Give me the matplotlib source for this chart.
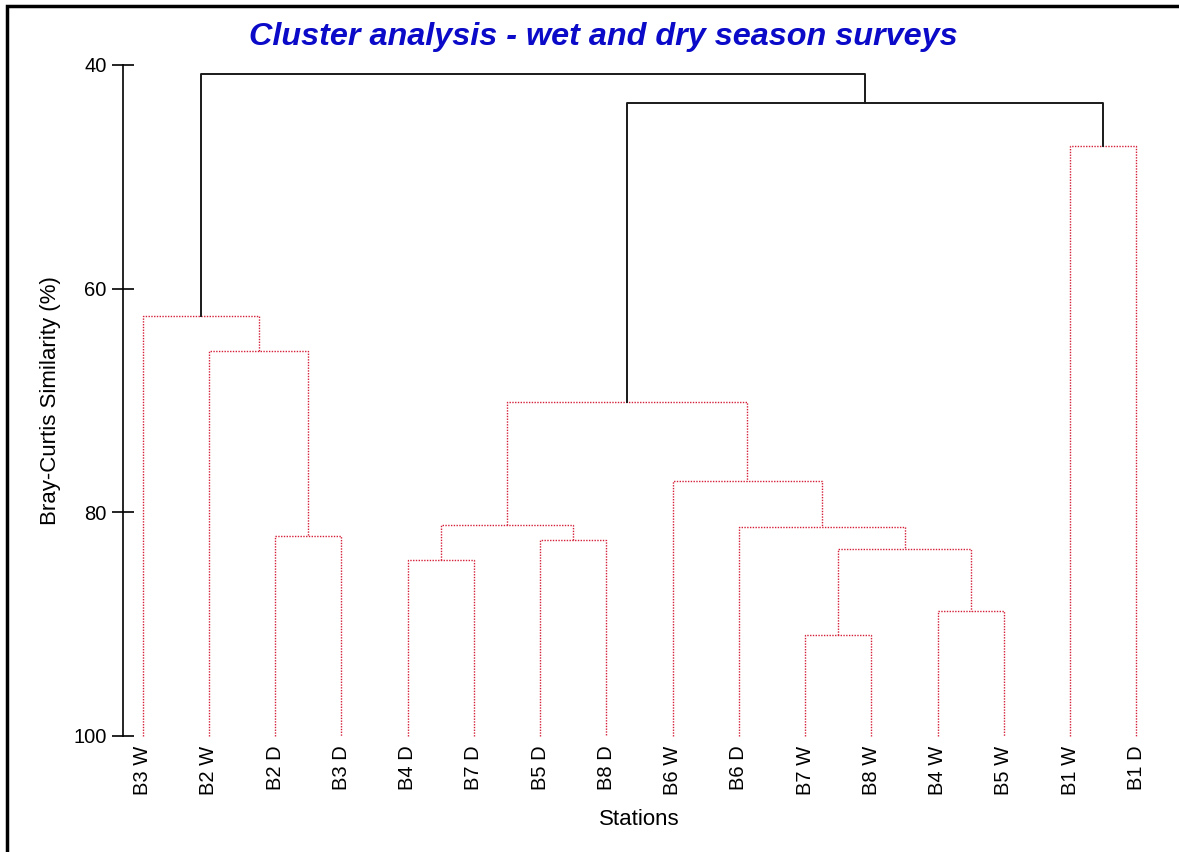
import matplotlib
matplotlib.use("Agg")
import matplotlib.pyplot as plt
from matplotlib.patches import Rectangle

plt.rcParams["font.family"] = ["Liberation Sans", "DejaVu Sans"]

# stations in dendrogram order
stations = ["B3 W", "B2 W", "B2 D", "B3 D", "B4 D", "B7 D", "B5 D", "B8 D",
            "B6 W", "B6 D", "B7 W", "B8 W", "B4 W", "B5 W", "B1 W", "B1 D"]

# merge table: node 16 + k joins merge_left[k] and merge_right[k]
merge_left = [2, 1, 0, 4, 6, 19, 10, 12, 22, 9, 8, 21, 14, 27, 18]
merge_right = [3, 16, 17, 5, 7, 20, 11, 13, 23, 24, 25, 26, 15, 28, 29]
similarity = [82.1, 65.6, 62.4, 84.3, 82.5, 81.1, 91.0, 88.8, 83.3, 81.3,
              77.2, 70.1, 47.2, 43.4, 40.8]

# groups joined above this level are drawn solid black
cut_level = 45

W, H = 1179, 852
fig = plt.figure(figsize=(W / 100, H / 100), dpi=100)
ax = fig.add_axes([123.3 / W, 116 / H, 1046.3 / W, 671 / H])

n = len(stations)
xpos = list(range(n))
height = [100.0] * n
for a, b, s in zip(merge_left, merge_right, similarity):
    xpos.append((xpos[a] + xpos[b]) / 2)
    height.append(s)

red = dict(color="#d42038", lw=1.0, ls=(0, (1, 1)), zorder=2)
black = dict(color="#1a1a1a", lw=1.4, ls="-", zorder=3)

for a, b, s in zip(merge_left, merge_right, similarity):
    style = black if s < cut_level else red
    ax.plot([xpos[a], xpos[a], xpos[b], xpos[b]],
            [height[a], s, s, height[b]], clip_on=False, **style)

ax.set_xlim(-0.293, 15.5)
ax.set_ylim(100, 40)
ax.set_yticks([40, 60, 80, 100])
ax.set_xticks(range(n))
ax.set_xticklabels(stations, rotation=90, fontsize=14.5)
ax.tick_params(axis="x", length=0, pad=7)
ax.tick_params(axis="y", direction="inout", length=16, width=1.2,
               labelsize=14.5, pad=4)

for side in ["top", "right", "bottom"]:
    ax.spines[side].set_visible(False)
ax.spines["left"].set_bounds(40, 100)
ax.spines["left"].set_linewidth(1.2)

ax.set_xlabel("Stations", fontsize=16)
ax.xaxis.set_label_coords(0.4929, -0.1088)
ax.set_ylabel("Bray-Curtis Similarity (%)", fontsize=16)
ax.yaxis.set_label_coords(-0.0595, 0.5)

fig.text(603.5 / W, 1 - 37 / H, "Cluster analysis - wet and dry season surveys",
         ha="center", va="center", fontsize=23.3, style="italic",
         weight="bold", color="#0a0ac8")

# outer frame
fig.patches.append(Rectangle((7 / W, -0.05), 1.2, 1 - 6 / H + 0.05,
                             transform=fig.transFigure, fill=False,
                             edgecolor="black", lw=2.5))

fig.savefig("out.png", dpi=100)
